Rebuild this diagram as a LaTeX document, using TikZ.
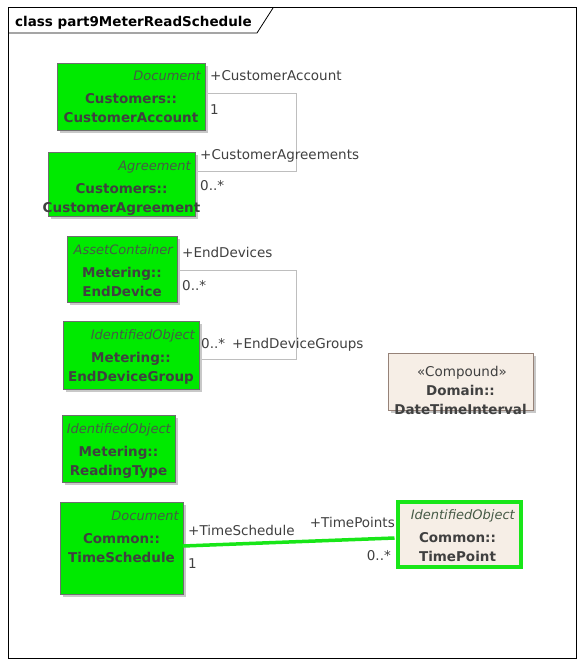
\documentclass[tikz,border=0pt]{standalone}
\usepackage{fontspec}
\setmainfont{DejaVu Sans}
\usetikzlibrary{calc}
\definecolor{boxgreen}{RGB}{0,234,0}
\definecolor{boxedge}{RGB}{110,110,110}
\definecolor{shadowc}{RGB}{200,200,200}
\definecolor{txt}{RGB}{64,64,64}
\definecolor{stxt}{RGB}{70,90,70}
\definecolor{beige}{RGB}{246,238,230}
\definecolor{beigeedge}{RGB}{150,130,120}
\definecolor{conn}{RGB}{190,190,190}
\definecolor{hilite}{RGB}{24,230,24}
\tikzset{
  greenbox/.style={draw=boxedge, fill=boxgreen, line width=0.8pt},
  beigebox/.style={draw=beigeedge, fill=beige, line width=0.8pt},
  tpbox/.style={draw=hilite, fill=beige, line width=3.5pt},
  stereo/.style={font=\fontsize{13}{15}\selectfont\itshape, text=stxt, inner sep=0pt, anchor=base east},
  namet/.style={font=\fontsize{13.5}{16}\selectfont\bfseries, text=txt, inner sep=0pt, anchor=base},
  rolet/.style={font=\fontsize{13.5}{16}\selectfont, text=txt, inner sep=0pt, anchor=base west},
  rolee/.style={font=\fontsize{13.5}{16}\selectfont, text=txt, inner sep=0pt, anchor=base east},
  assoc/.style={draw=conn, line width=1pt},
  hassoc/.style={draw=hilite, line width=3.5pt},
}
% name, x1, y1, x2, y2, style, stereotype, package, class
\newcommand{\umlbox}[9]{%
  \fill[shadowc] (#2+3,#3+3) rectangle (#4+3,#5+3);
  \node[#6, minimum width={#4-#2}, minimum height={#5-#3}, inner sep=0pt, anchor=north west] (#1) at (#2,#3) {};
  \node[stereo] (#1-s) at (#4-4,#3+18) {#7};
  \node[namet] (#1-p) at ({(#2+#4)/2},#3+41) {#8};
  \node[namet] (#1-c) at ({(#2+#4)/2},#3+60) {#9};
}
\begin{document}
\begin{tikzpicture}[x=1pt,y=-1pt]
\useasboundingbox (0,0) rectangle (584,666);
\fill[white] (0,0) rectangle (584,666);
% frame
\draw[black, line width=1pt] (8,8) rectangle (576,658);
\draw[black, line width=0.8pt] (8,33) -- (257,33) -- (273,8);
\node[font=\fontsize{13.5}{16}\selectfont\bfseries, text=black, inner sep=0pt, anchor=base west] (title) at (15,27) {class part9MeterReadSchedule};

% connectors (drawn first)
\coordinate (ca1) at (205,94);
\coordinate (ca2) at (296,94);
\coordinate (ca3) at (296,171);
\coordinate (ca4) at (195,171);
\draw[assoc] (ca1) -- (ca2) -- (ca3) -- (ca4);
\coordinate (ed1) at (177,270);
\coordinate (ed2) at (296,270);
\coordinate (ed3) at (296,359);
\coordinate (ed4) at (199,359);
\draw[assoc] (ed1) -- (ed2) -- (ed3) -- (ed4);

\umlbox{acc}{57}{63}{205}{130}{greenbox}{Document}{Customers::}{CustomerAccount}
\umlbox{agr}{48}{152}{195}{216}{greenbox}{Agreement}{Customers::}{CustomerAgreement}
\umlbox{ed}{67}{236}{177}{302}{greenbox}{AssetContainer}{Metering::}{EndDevice}
\umlbox{edg}{63}{321}{199}{389}{greenbox}{IdentifiedObject}{Metering::}{EndDeviceGroup}
\umlbox{rt}{62}{415}{175}{482}{greenbox}{IdentifiedObject}{Metering::}{ReadingType}
\umlbox{ts}{60}{502}{183}{594}{greenbox}{Document}{Common::}{TimeSchedule}

% DateTimeInterval
\fill[shadowc] (391,356) rectangle (536,413);
\node[beigebox, minimum width=145pt, minimum height=57pt, inner sep=0pt, anchor=north west] (dti) at (388,353) {};
\node[font=\fontsize{13.5}{16}\selectfont, text=txt, inner sep=0pt, anchor=base] (dti-s) at (462,376) {«Compound»};
\node[namet] (dti-p) at (460.5,395) {Domain::};
\node[namet] (dti-c) at (460.5,414) {DateTimeInterval};

% TimePoint
\fill[shadowc] (399,503) rectangle (522,568);
\node[tpbox, minimum width=123pt, minimum height=65pt, inner sep=0pt, anchor=north west] (tp) at (396,500) {};
\node[stereo] (tp-s) at (515,519) {IdentifiedObject};
\node[namet] (tp-p) at (457.5,542) {Common::};
\node[namet] (tp-c) at (457.5,561) {TimePoint};

% highlighted association
\coordinate (tsA) at (183,546);
\coordinate (tpA) at (394.5,538);
\draw[hassoc] (tsA) -- (tpA);

% role labels
\node[rolet] (l1) at (210,81) {+CustomerAccount};
\node[rolet] (l2) at (210,115) {1};
\node[rolet] (l3) at (200,159) {+CustomerAgreements};
\node[rolet] (l4) at (200,190) {0..*};
\node[rolet] (l5) at (182,257) {+EndDevices};
\node[rolet] (l6) at (182,290) {0..*};
\node[rolet] (l7) at (201,348) {0..*};
\node[rolet] (l8) at (232,348) {+EndDeviceGroups};
\node[rolet] (l9) at (188,535) {+TimeSchedule};
\node[rolet] (l10) at (188,568) {1};
\node[rolee] (l11) at (395,527) {+TimePoints};
\node[rolee] (l12) at (391,560) {0..*};
\end{tikzpicture}
\end{document}
